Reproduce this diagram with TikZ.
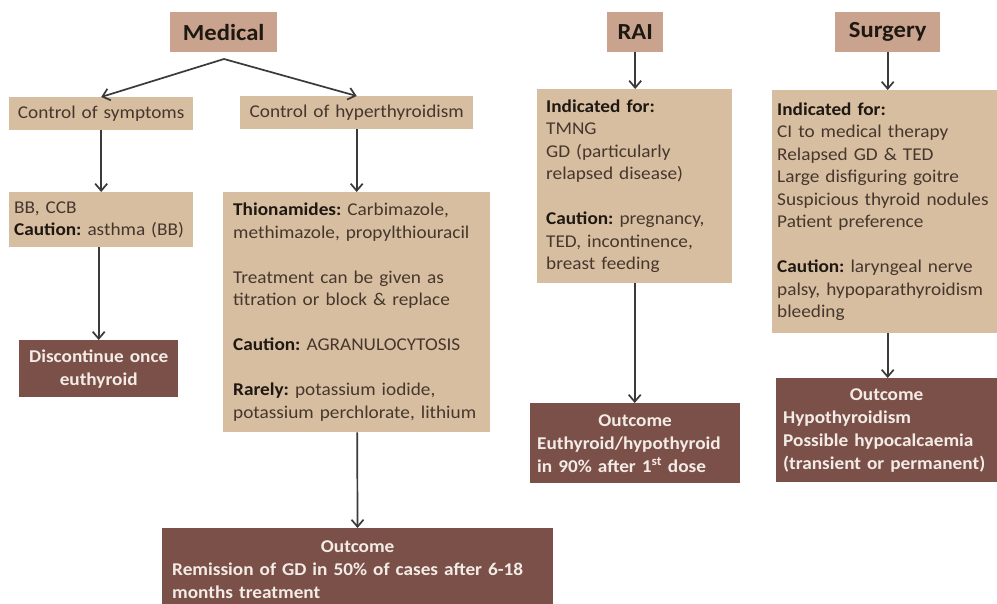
\documentclass[tikz,border=0pt]{standalone}
\usepackage{fontspec}
\setmainfont{Carlito}[FakeStretch=1.07]
\usetikzlibrary{arrows.meta}
\frenchspacing
\definecolor{hdr}{HTML}{C9A38D}
\definecolor{lt}{HTML}{D8BEA0}
\definecolor{dk}{HTML}{7A5048}
\definecolor{txt}{HTML}{45372E}
\definecolor{btxt}{HTML}{1E1812}
\definecolor{wtxt}{HTML}{F3ECE6}
\definecolor{arrc}{HTML}{3A3A3A}
\newcommand{\bx}[1]{\textbf{\color{btxt}#1}}
\tikzset{
  hdrbox/.style={fill=hdr, anchor=north west, inner sep=0pt, font=\fontsize{23}{27}\selectfont\bfseries, text=btxt},
  ltbox/.style={fill=lt, anchor=north west, inner sep=0pt, font=\fontsize{18}{22.5}\selectfont\frenchspacing, text=txt},
  dkbox/.style={fill=dk, anchor=north west, inner sep=0pt, font=\fontsize{18}{23}\selectfont\bfseries\frenchspacing, text=wtxt},
  conn/.style={draw=arrc, line width=1.7pt, -{Straight Barb[length=7pt,width=12pt,line width=1.7pt]}},
}
\begin{document}
\begin{tikzpicture}[x=1pt,y=-1pt]
\useasboundingbox (0,0) rectangle (997,604);
\clip (0,0) rectangle (997,604);
\fill[white] (0,0) rectangle (997,604);
% headers
\node[hdrbox, minimum width=107pt, minimum height=40pt] (med) at (170,12) {Medical};
\node[hdrbox, minimum width=56pt, minimum height=40pt] (rai) at (607,12) {RAI};
\node[hdrbox, minimum width=105pt, minimum height=40pt] (surg) at (835,12) {Surgery};
% medical column
\node[ltbox, minimum width=184pt, minimum height=33pt, text width=180pt, align=center] (cs) at (9,97) {Control of symptoms};
\node[ltbox, minimum width=233pt, minimum height=33pt, text width=229pt, align=center] (ch) at (240,96) {Control of hyperthyroidism};
\node[ltbox, minimum width=184pt, minimum height=55pt, text width=174pt, align=left] (bb) at (9,192) {BB, CCB\\\bx{Caution:} asthma (BB)};
\node[ltbox, minimum width=267pt, minimum height=240pt, text width=247pt, align=left] (thio) at (223,192)
 {\bx{Thionamides:} Carbimazole,\\ methimazole, propylthiouracil\\[22.5pt]
  Treatment can be given as\\ titration or block \& replace\\[22.5pt]
  \bx{Caution:} AGRANULOCYTOSIS\\[22.5pt]
  \bx{Rarely:} potassium iodide,\\ potassium perchlorate, lithium};
\node[dkbox, minimum width=159pt, minimum height=57pt, text width=155pt, align=center] (disc) at (19,340) {Discontinue once\\euthyroid};
\node[dkbox, minimum width=391pt, minimum height=82pt, text width=371pt, align=left] (medout) at (162,528)
 {{\centering Outcome\par}Remission of GD in 50\% of cases after 6-18\\months treatment};
% RAI column
\node[ltbox, minimum width=195pt, minimum height=194pt, text width=177pt, align=left] (raiind) at (537,89)
 {\bx{Indicated for:}\\TMNG\\GD (particularly\\relapsed disease)\\[22.5pt]
  \bx{Caution:} pregnancy,\\TED, incontinence,\\breast feeding};
\node[dkbox, minimum width=210pt, minimum height=80pt, text width=196pt, align=left] (raiout) at (530,403)
 {{\centering Outcome\par}Euthyroid/hypothyroid\\in 90\% after 1\textsuperscript{st} dose};
% Surgery column
\node[ltbox, minimum width=225pt, minimum height=243pt, text width=215pt, align=left] (surgind) at (772,90)
 {\bx{Indicated for:}\\CI to medical therapy\\Relapsed GD \& TED\\Large disfiguring goitre\\Suspicious thyroid nodules\\Patient preference\\[22.5pt]
  \bx{Caution:} laryngeal nerve\\palsy, hypoparathyroidism\\bleeding};
\node[dkbox, minimum width=221pt, minimum height=104pt, text width=207pt, align=left] (surgout) at (776,378)
 {{\centering Outcome\par}Hypothyroidism\\Possible hypocalcaemia\\(transient or permanent)};
% connectors
\coordinate (split) at (224,59);
\draw[conn] (split) -- (cs.north);
\draw[conn] (split) -- (ch.north);
\draw[conn] (cs) -- (bb);
\draw[conn] (disc.north |- bb.south) -- (disc.north);
\draw[conn] (ch) -- (thio);
\draw[conn] (thio) -- (medout);
\draw[conn] (rai) -- (rai |- raiind.north);
\draw[conn] (raiind) -- (raiind.south |- raiout.north);
\draw[conn] (surg) -- (surg |- surgind.north);
\draw[conn] (surg |- surgind.south) -- (surg |- surgout.north);
\end{tikzpicture}
\end{document}
